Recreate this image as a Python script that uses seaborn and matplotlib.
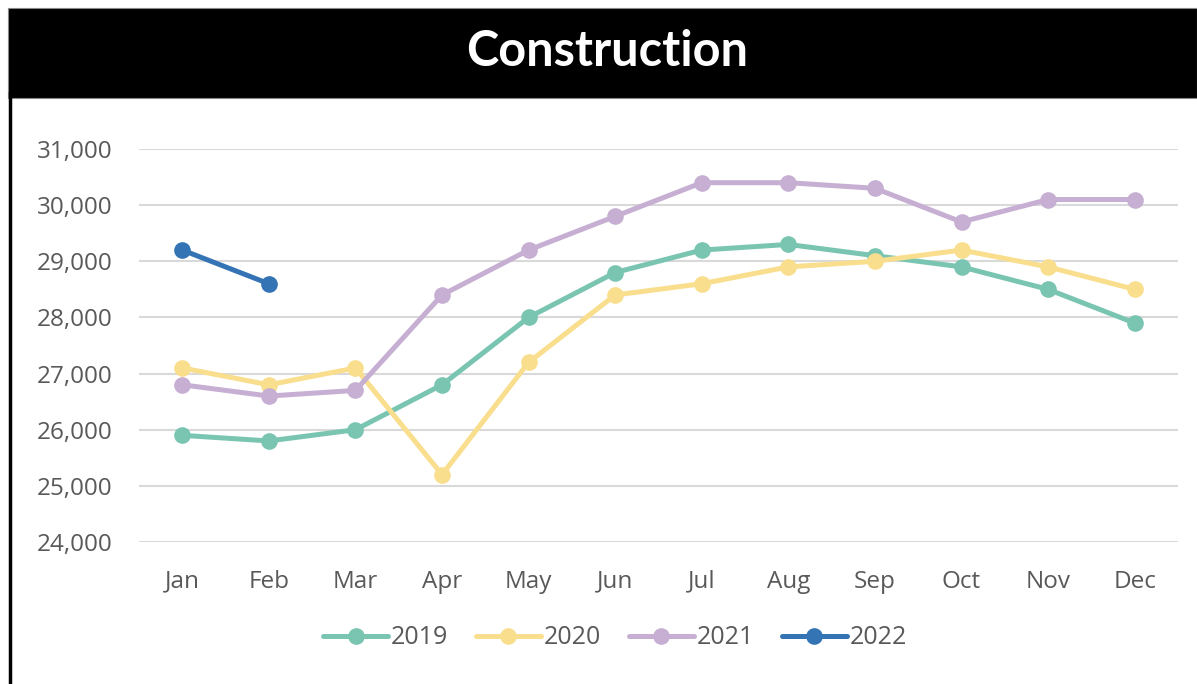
import matplotlib
matplotlib.use("Agg")
import matplotlib.pyplot as plt
from matplotlib.patches import Rectangle
from matplotlib.lines import Line2D
import seaborn as sns
import pandas as pd

months = ["Jan", "Feb", "Mar", "Apr", "May", "Jun", "Jul", "Aug", "Sep", "Oct", "Nov", "Dec"]
v2019 = [25900, 25800, 26000, 26800, 28000, 28800, 29200, 29300, 29100, 28900, 28500, 27900]
v2020 = [27100, 26800, 27100, 25200, 27200, 28400, 28600, 28900, 29000, 29200, 28900, 28500]
v2021 = [26800, 26600, 26700, 28400, 29200, 29800, 30400, 30400, 30300, 29700, 30100, 30100]
v2022 = [29200, 28600]
years = ["2019", "2020", "2021", "2022"]
colors = ["#7AC5B1", "#F9DE8D", "#C6AFD2", "#3474B5"]
yticks = [24000, 25000, 26000, 27000, 28000, 29000, 30000, 31000]

rows = []
for yr, vals in zip(years, [v2019, v2020, v2021, v2022]):
    for i, v in enumerate(vals):
        rows.append({"month": i, "value": v, "year": yr})
df = pd.DataFrame(rows)

sns.set_theme(style="white")
plt.rcParams["font.family"] = ["Open Sans", "DejaVu Sans"]

fig = plt.figure(figsize=(11.97, 6.84), dpi=100)
W, H = 1197, 684

# title bar
fig.patches.append(Rectangle((8 / W, 1 - 98 / H), 1 - 8 / W, 90 / H, transform=fig.transFigure,
                             facecolor="black", edgecolor="#888888", linewidth=0.8, zorder=0))
fig.lines.append(Line2D([9.5 / W, 9.5 / W], [0, 1 - 92 / H], transform=fig.transFigure,
                        color="black", linewidth=2.5))
fig.text(607 / W, 1 - 52 / H, "Construction", color="white", ha="center", va="center",
         fontsize=35, fontweight="bold", family=["Lato", "DejaVu Sans"])

ax = fig.add_axes([139 / W, 1 - 542 / H, (1178 - 139) / W, (542 - 149) / H])
palette = dict(zip(years, colors))
sns.lineplot(data=df, x="month", y="value", hue="year", palette=palette, marker="o",
             markersize=12, markeredgewidth=0, linewidth=3.6, sort=False, ax=ax,
             legend=False)
for ln in ax.lines:
    ln.set_clip_on(False)
    ln.set_solid_capstyle("round")

ax.set_xlim(-0.5, 11.5)
ax.set_ylim(24000, 31000)
ax.set_yticks(yticks)
ax.set_yticklabels([f"{t:,}" for t in yticks])
ax.set_xticks(range(12))
ax.set_xticklabels(months)
ax.grid(axis="y", color="#D9D9D9", linewidth=1.5)
ax.set_axisbelow(True)
for s in ax.spines.values():
    s.set_visible(False)
ax.tick_params(axis="both", length=0, labelsize=17.5, labelcolor="#595959")
ax.tick_params(axis="y", pad=19)
ax.tick_params(axis="x", pad=20)
ax.set_xlabel("")
ax.set_ylabel("")

handles = [Line2D([], [], color=c, marker="o", markersize=12, markeredgewidth=0,
                  linewidth=3.6, solid_capstyle="round") for c in colors]
fig.legend(handles, years, loc="center", bbox_to_anchor=(615 / W, 1 - 638 / H), ncol=4,
           frameon=False, fontsize=18, labelcolor="#595959", handlelength=2.6,
           handletextpad=0.12, columnspacing=1.1)

fig.savefig("out.png", dpi=100)
